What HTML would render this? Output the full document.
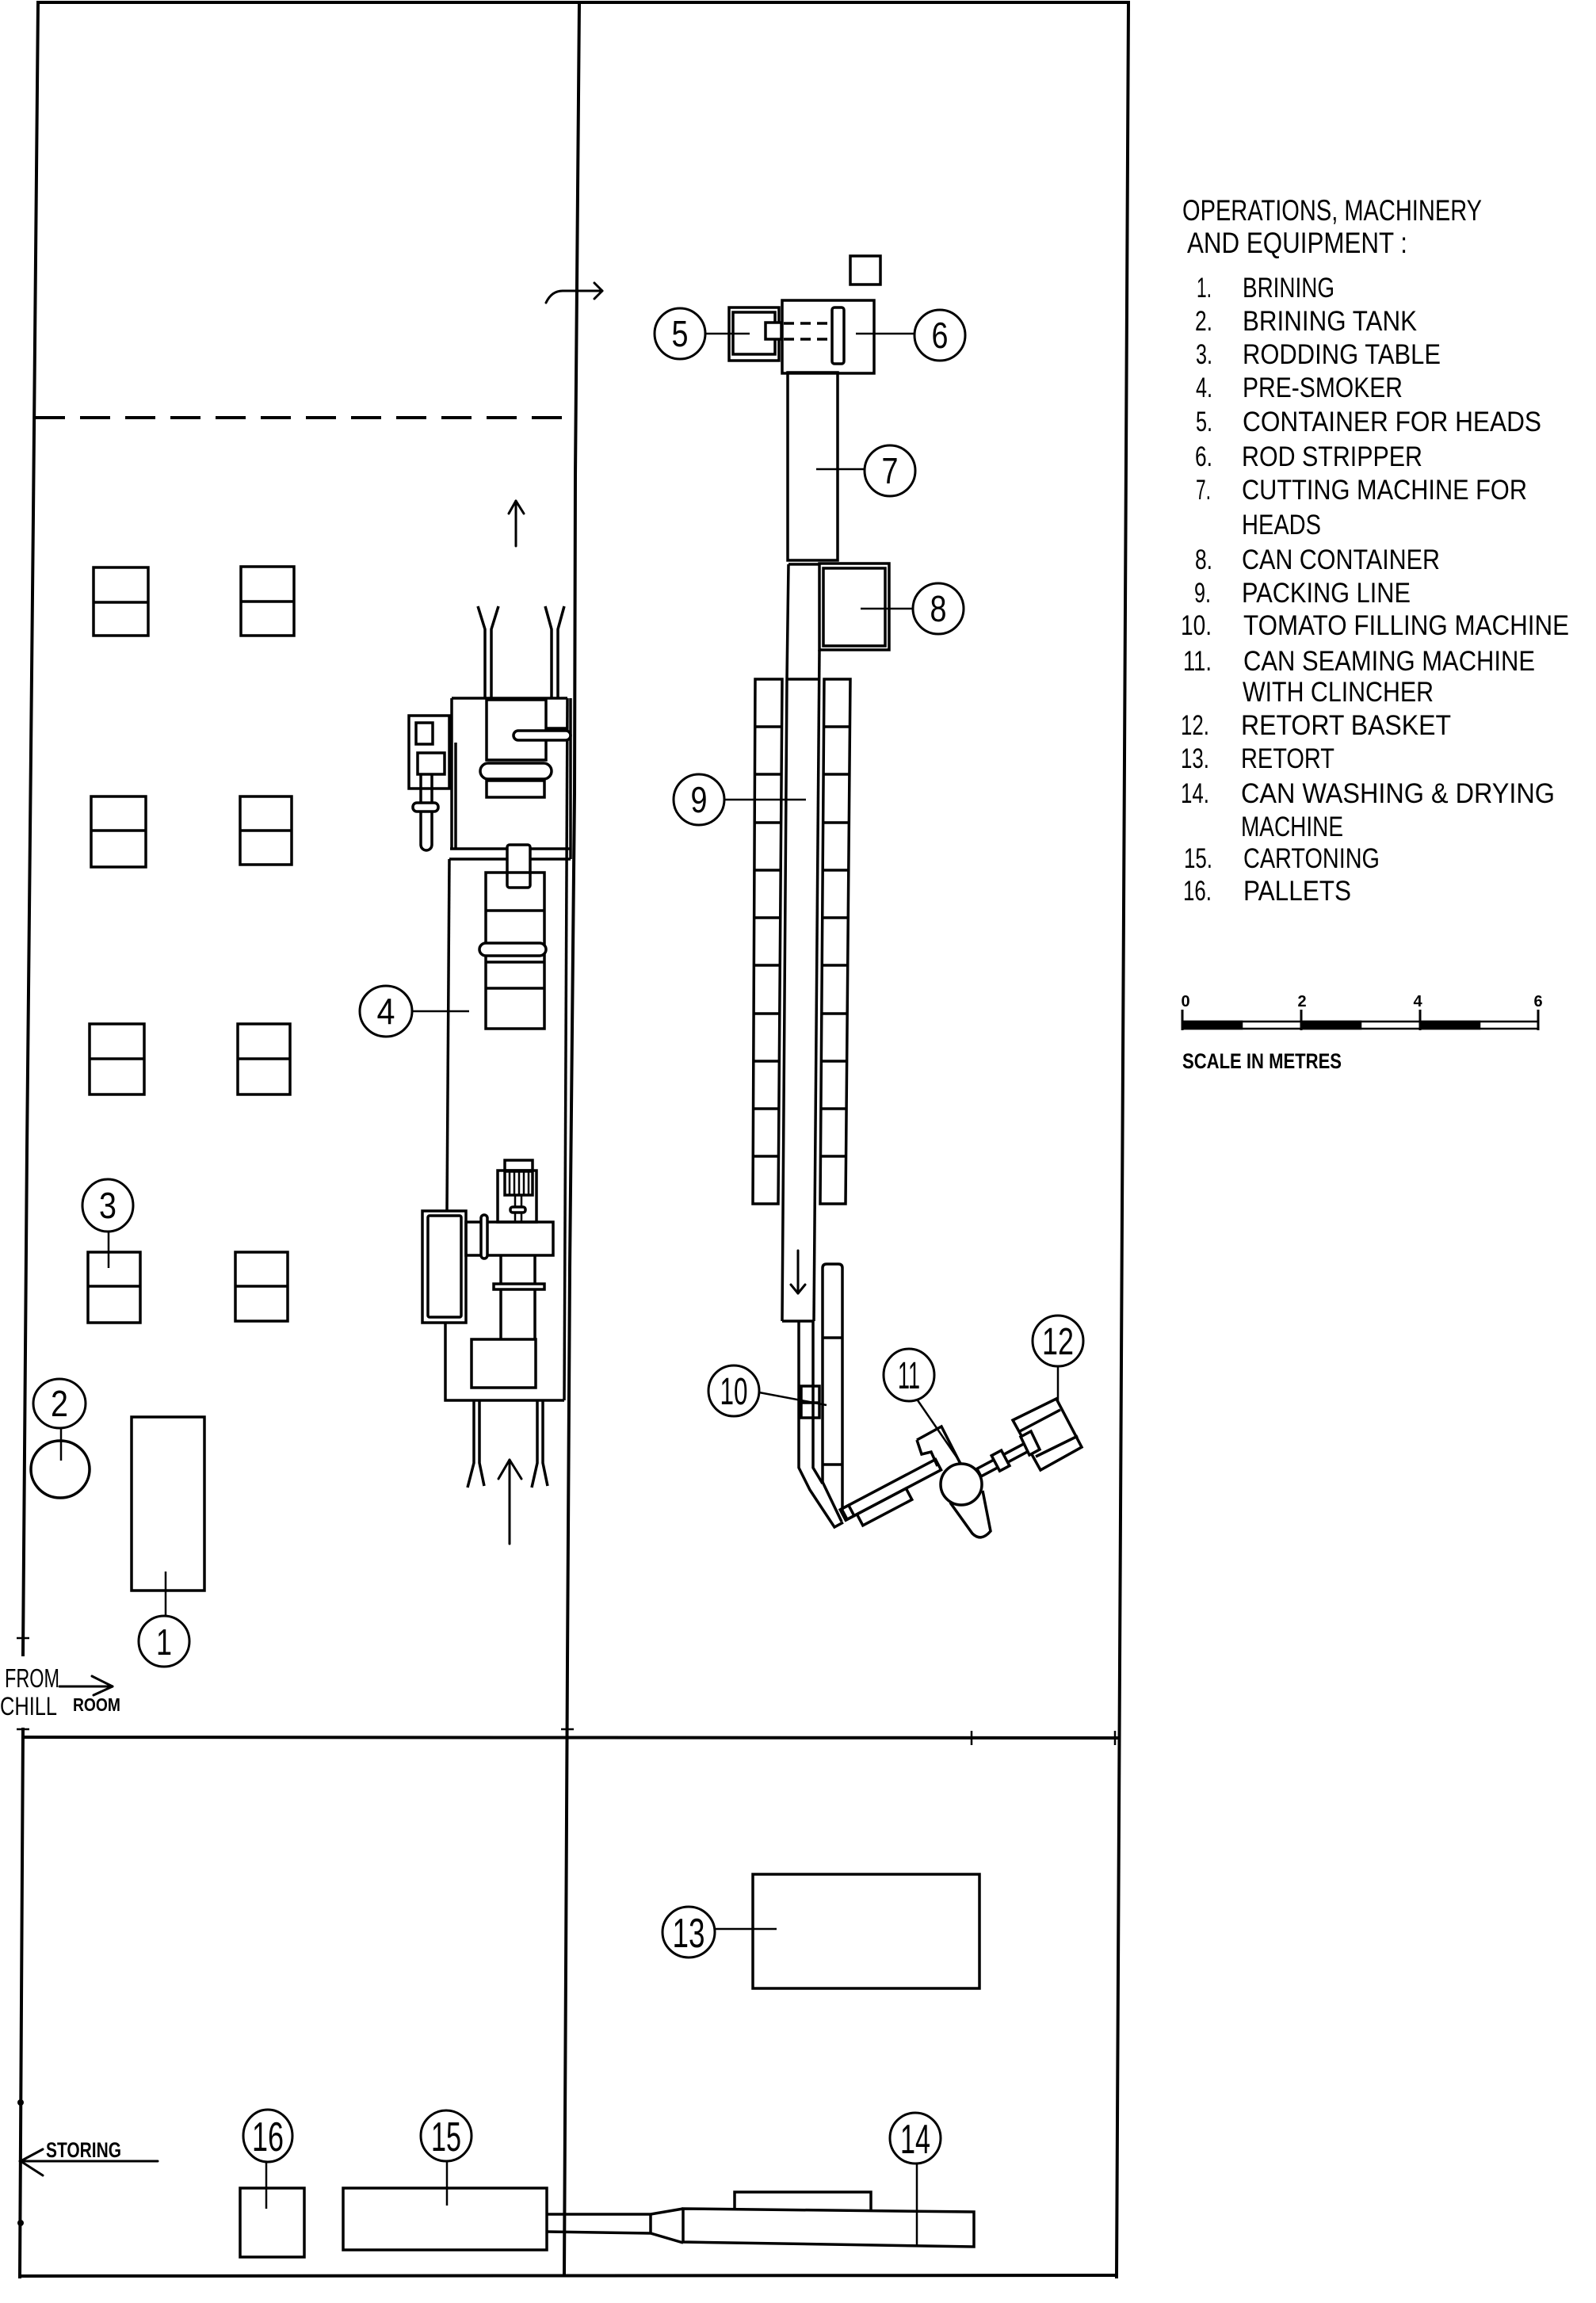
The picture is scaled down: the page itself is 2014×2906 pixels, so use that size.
<!DOCTYPE html>
<html><head><meta charset="utf-8"><title>Plant layout</title>
<style>
html,body{margin:0;padding:0;background:#fff;}
svg{display:block;}
text{font-family:"Liberation Sans",sans-serif;fill:#000;stroke:none;}
</style></head><body>
<svg width="2014" height="2906" viewBox="0 0 2014 2906" xmlns="http://www.w3.org/2000/svg">
<rect x="0" y="0" width="2014" height="2906" fill="#fff"/>

<!-- ============ FRAME & WALLS ============ -->
<g fill="none" stroke="#000" stroke-width="4" stroke-linecap="square" stroke-linejoin="miter">
  <path d="M48,3 L1424,3"/>
  <path d="M48,3 L42,650 L34,1450 L29,2088"/>
  <path d="M29,2182 L25,2873"/>
  <path d="M1424,3 L1413,2100 L1409,2873"/>
  <path d="M29,2192 L1412,2193"/>
  <path d="M25,2872 L1409,2871"/>
  <path d="M731,3 L726,600 L725,1000 L719,1600 L716,2100 L712,2870"/>
  <path d="M44,527 L724,527" stroke-dasharray="38 19" stroke-linecap="butt"/>
</g>
<g fill="none" stroke="#000" stroke-width="2.5">
  <path d="M21,2067 L37,2067"/>
  <path d="M21,2182 L37,2182"/>
  <path d="M1226,2184 L1226,2202"/>
  <path d="M1407,2184 L1407,2202"/>
  <path d="M708,2182 L724,2182"/>
</g>
<circle cx="26" cy="2653" r="4" fill="#000"/>
<circle cx="26" cy="2805" r="4" fill="#000"/>

<!-- ============ ARROWS ============ -->
<g fill="none" stroke="#000" stroke-width="3" stroke-linecap="round" stroke-linejoin="round">
  <path d="M689,382 Q696,367 710,367 L760,367"/>
  <path d="M750,357 L760,367 L750,377"/>
  <path d="M651,689 L651,632"/>
  <path d="M642,648 L651,632 L661,648"/>
  <path d="M643,1948 L643,1842"/>
  <path d="M629,1866 L643,1842 L658,1866"/>
  <path d="M1007,1578 L1007,1632"/>
  <path d="M998,1621 L1007,1632 L1016,1621"/>
  <!-- from chill room -->
  <path d="M75,2128 L142,2128"/>
  <path d="M116,2115 L142,2128 L118,2139"/>
  <!-- storing -->
  <path d="M199,2727 L25,2727"/>
  <path d="M54,2712 L26,2727 L54,2745"/>
</g>

<!-- ============ LEFT AREA (rodding tables etc.) ============ -->
<g fill="none" stroke="#000" stroke-width="3.5">
  <rect x="118" y="716" width="69" height="86"/><path d="M118,760 L187,760"/>
  <rect x="304" y="715" width="67" height="87"/><path d="M304,759 L371,759"/>
  <rect x="115" y="1005" width="69" height="89"/><path d="M115,1048 L184,1048"/>
  <rect x="303" y="1005" width="65" height="86"/><path d="M303,1048 L368,1048"/>
  <rect x="113" y="1292" width="69" height="89"/><path d="M113,1336 L182,1336"/>
  <rect x="300" y="1292" width="66" height="89"/><path d="M300,1336 L366,1336"/>
  <rect x="111" y="1580" width="66" height="89"/><path d="M111,1623 L177,1623"/>
  <rect x="297" y="1580" width="66" height="87"/><path d="M297,1623 L363,1623"/>
  <ellipse cx="76" cy="1854" rx="37" ry="36"/>
  <rect x="166" y="1788" width="92" height="219"/>
</g>

<!-- ============ PRE-SMOKER (4) ============ -->
<g fill="none" stroke="#000" stroke-width="3.5" stroke-linejoin="miter">
  <path d="M570,881 L716,881"/>
  <path d="M570,881 L570,1071"/>
  <path d="M716,881 L712,1767"/>
  <path d="M720,881 L720,1084"/>
  <path d="M575,937 L575,1071"/>
  <path d="M568,1071 L720,1071"/>
  <path d="M567,1084 L720,1084"/>
  <path d="M567,1084 L564,1528"/>
  <path d="M562,1669 L562,1767 L712,1767"/>
  <!-- vents top -->
  <path d="M612,881 L612,794 L603,765"/>
  <path d="M620,881 L620,794 L629,765"/>
  <path d="M696,881 L696,794 L688,765"/>
  <path d="M704,881 L704,794 L712,765"/>
  <!-- upper drum -->
  <rect x="614" y="883" width="75" height="76"/>
  <path d="M689,919 L716,919"/>
  <rect x="648" y="922" width="72" height="12" rx="6" fill="#fff"/>
  <rect x="606" y="963" width="90" height="20" rx="10"/>
  <rect x="614" y="985" width="73" height="21"/>
  <!-- control panel -->
  <rect x="516" y="903" width="51" height="92"/>
  <rect x="525" y="912" width="21" height="27"/>
  <rect x="527" y="950" width="34" height="27"/>
  <path d="M531,977 L531,1066 A7,7 0 0 0 545,1066 L545,977"/>
  <rect x="521" y="1013" width="32" height="11" rx="5" fill="#fff"/>
  <!-- coupling and lower drum -->
  <rect x="640" y="1066" width="29" height="54" rx="3" fill="#fff"/>
  <rect x="613" y="1101" width="74" height="197"/>
  <path d="M613,1149 L687,1149 M613,1214 L687,1214 M613,1247 L687,1247"/>
  <rect x="605" y="1190" width="84" height="16" rx="8" fill="#fff"/>
  <!-- lower section -->
  <rect x="533" y="1528" width="55" height="141"/>
  <rect x="540" y="1534" width="42" height="128" rx="2"/>
  <rect x="588" y="1542" width="110" height="42"/>
  <rect x="607" y="1533" width="8" height="55" rx="4" fill="#fff"/>
  <rect x="628" y="1477" width="49" height="65"/>
  <rect x="637" y="1464" width="35" height="13"/>
  <rect x="637" y="1478" width="35" height="30"/>
  <path d="M643,1478 L643,1508 M649,1478 L649,1508 M655,1478 L655,1508 M661,1478 L661,1508 M667,1478 L667,1508" stroke-width="2.5"/>
  <path d="M650,1508 L650,1542 M658,1508 L658,1542" stroke-width="2.5"/>
  <rect x="644" y="1523" width="19" height="7" rx="3" fill="#fff"/>
  <path d="M632,1584 L632,1690 M675,1584 L675,1690"/>
  <rect x="623" y="1620" width="64" height="7" fill="#fff"/>
  <rect x="595" y="1690" width="81" height="61"/>
  <!-- legs -->
  <path d="M598,1767 L598,1846 L590,1877"/>
  <path d="M605,1767 L605,1846 L611,1875"/>
  <path d="M678,1767 L678,1846 L671,1877"/>
  <path d="M685,1767 L685,1846 L691,1875"/>
</g>

<!-- ============ HEAD LINE 5-8 ============ -->
<g fill="none" stroke="#000" stroke-width="3.5">
  <rect x="1073" y="323" width="38" height="36"/>
  <rect x="987" y="379" width="116" height="92"/>
  <rect x="1050" y="388" width="15" height="71" rx="3"/>
  <path d="M989,408 L1048,408 M989,428 L1048,428" stroke-dasharray="13 8"/>
  <rect x="920" y="388" width="63" height="67"/>
  <rect x="925" y="394" width="53" height="53"/>
  <rect x="966" y="407" width="20" height="21" fill="#fff"/>
  <rect x="994" y="470" width="63" height="237"/>
  <rect x="1034" y="711" width="88" height="109"/>
  <rect x="1039" y="717" width="78" height="98"/>
  <!-- packing line -->
  <path d="M995,712 L1034,712"/>
  <path d="M995,712 L993,857 L987,1667"/>
  <path d="M1034,820 L1027,1667"/>
  <path d="M993,857 L1034,857"/>
  <path d="M987,1667 L1027,1667"/>
</g>

<!-- packing line side columns -->
<g fill="none" stroke="#000" stroke-width="3.5">
  <path d="M953,857 L987,857 L982,1519 L950,1519 Z"/>
  <path d="M1040,857 L1073,857 L1067,1519 L1035,1519 Z"/>
  <path d="M952,917 L986,917 M952,977 L986,977 M952,1038 L985,1038 M952,1098 L985,1098 M951,1158 L985,1158 M951,1218 L984,1218 M951,1279 L984,1279 M951,1339 L983,1339 M950,1399 L983,1399 M950,1459 L983,1459"/>
  <path d="M1039,917 L1072,917 M1039,977 L1072,977 M1038,1038 L1071,1038 M1038,1098 L1071,1098 M1038,1158 L1070,1158 M1037,1218 L1070,1218 M1037,1279 L1069,1279 M1037,1339 L1069,1339 M1036,1399 L1068,1399 M1036,1459 L1068,1459"/>
</g>

<!-- ============ FILLER / SEAMER / BASKET ============ -->
<g fill="none" stroke="#000" stroke-width="3.5" stroke-linejoin="miter">
  <path d="M1038,1870 L1038,1600 Q1038,1595 1043,1595 L1058,1595 Q1063,1595 1063,1600 L1063,1905"/>
  <path d="M1038,1688 L1063,1688 M1038,1848 L1063,1848"/>
  <path d="M1038,1870 L1062,1920"/>
  <path d="M1008,1667 L1008,1852 L1022,1880 L1053,1927 L1064,1921"/>
  <path d="M1026,1667 L1026,1852 L1038,1872"/>
  <rect x="1011" y="1749" width="23" height="40"/>
  <path d="M1011,1770 L1034,1770"/>
  <!-- conveyor arm -->
  <g transform="translate(1062,1904) rotate(-27.8)">
    <rect x="0" y="0" width="134" height="15"/>
    <rect x="14" y="15" width="70" height="16"/>
    <rect x="-2" y="0" width="12" height="15"/>
  </g>
  <!-- seamer -->
  <circle cx="1213" cy="1873" r="26"/>
  <path d="M1157,1817 L1188,1800 L1212,1847"/>
  <path d="M1157,1817 L1163,1835 L1175,1832 L1183,1850"/>
  <path d="M1199,1896 L1227,1935 Q1238,1946 1250,1932 L1240,1881"/>
  <!-- arm to basket -->
  <g transform="translate(1238,1863) rotate(-28)">
    <rect x="0" y="-11" width="72" height="11"/>
    <rect x="24" y="-17" width="14" height="22" fill="#fff"/>
  </g>
  <!-- retort basket -->
  <path d="M1278,1792 L1333,1765 L1365,1826 L1313,1855 Z"/>
  <path d="M1285,1807 L1338,1779"/>
  <path d="M1307,1838 L1360,1812"/>
  <path d="M1288,1813 L1301,1806 L1312,1829 L1299,1836 Z" fill="#fff"/>
</g>

<!-- ============ BOTTOM AREA ============ -->
<g fill="none" stroke="#000" stroke-width="3.5">
  <rect x="950" y="2365" width="286" height="144"/>
  <rect x="303" y="2761" width="81" height="87"/>
  <rect x="433" y="2761" width="257" height="78"/>
  <path d="M690,2794 L821,2794 L862,2787"/>
  <path d="M690,2816 L821,2818 L862,2830"/>
  <path d="M821,2794 L821,2818"/>
  <path d="M862,2787 L1229,2791 L1229,2835 L862,2829 Z"/>
  <path d="M927,2788 L927,2766 L1099,2766 L1099,2790"/>
</g>

<!-- ============ LEADERS ============ -->
<g fill="none" stroke="#000" stroke-width="2.5">
  <path d="M890,421 L946,421"/>
  <path d="M1080,421 L1154,421"/>
  <path d="M1030,592 L1091,592"/>
  <path d="M1086,768 L1152,768"/>
  <path d="M914,1009 L1017,1009"/>
  <path d="M520,1276 L592,1276"/>
  <path d="M137,1554 L137,1600"/>
  <path d="M77,1802 L77,1843"/>
  <path d="M209,1983 L209,2039"/>
  <path d="M958,1757 L1043,1773"/>
  <path d="M1158,1767 L1213,1847"/>
  <path d="M1335,1724 L1335,1770"/>
  <path d="M902,2434 L980,2434"/>
  <path d="M336,2728 L336,2787"/>
  <path d="M564,2727 L564,2783"/>
  <path d="M1157,2730 L1157,2833"/>
</g>

<!-- ============ CIRCLED NUMBERS ============ -->
<g fill="#fff" stroke="#000" stroke-width="3">
  <ellipse cx="207" cy="2071" rx="32" ry="32"/>
  <ellipse cx="75" cy="1771" rx="33" ry="31"/>
  <ellipse cx="136" cy="1521" rx="32" ry="33"/>
  <ellipse cx="487" cy="1276" rx="33" ry="32"/>
  <ellipse cx="858" cy="421" rx="32" ry="32"/>
  <ellipse cx="1186" cy="423" rx="32" ry="32"/>
  <ellipse cx="1123" cy="594" rx="32" ry="32"/>
  <ellipse cx="1184" cy="768" rx="32" ry="32"/>
  <ellipse cx="882" cy="1009" rx="32" ry="32"/>
  <ellipse cx="926" cy="1755" rx="32" ry="32"/>
  <ellipse cx="1147" cy="1735" rx="32" ry="33"/>
  <ellipse cx="1335" cy="1692" rx="32" ry="32"/>
  <ellipse cx="869" cy="2438" rx="33" ry="32"/>
  <ellipse cx="1155" cy="2698" rx="32" ry="32"/>
  <ellipse cx="563" cy="2695" rx="32" ry="32"/>
  <ellipse cx="338" cy="2695" rx="31" ry="33"/>
</g>
<g font-size="46" text-anchor="middle">
  <text x="207" y="2088" textLength="20" lengthAdjust="spacingAndGlyphs">1</text>
  <text x="75" y="1787" textLength="22" lengthAdjust="spacingAndGlyphs">2</text>
  <text x="136" y="1537" textLength="22" lengthAdjust="spacingAndGlyphs">3</text>
  <text x="487" y="1292" textLength="23" lengthAdjust="spacingAndGlyphs">4</text>
  <text x="858" y="437" textLength="21" lengthAdjust="spacingAndGlyphs">5</text>
  <text x="1186" y="439" textLength="21" lengthAdjust="spacingAndGlyphs">6</text>
  <text x="1123" y="610" textLength="21" lengthAdjust="spacingAndGlyphs">7</text>
  <text x="1184" y="784" textLength="21" lengthAdjust="spacingAndGlyphs">8</text>
  <text x="882" y="1025" textLength="21" lengthAdjust="spacingAndGlyphs">9</text>
</g>
<g font-size="48" text-anchor="middle">
  <text x="926" y="1772" textLength="35" lengthAdjust="spacingAndGlyphs">10</text>
  <text x="1147" y="1752" textLength="28" lengthAdjust="spacingAndGlyphs">11</text>
  <text x="1335" y="1709" textLength="40" lengthAdjust="spacingAndGlyphs">12</text>
</g>
<g font-size="52" text-anchor="middle">
  <text x="869" y="2457" textLength="41" lengthAdjust="spacingAndGlyphs">13</text>
  <text x="1155" y="2717" textLength="38" lengthAdjust="spacingAndGlyphs">14</text>
  <text x="563" y="2714" textLength="38" lengthAdjust="spacingAndGlyphs">15</text>
  <text x="338" y="2714" textLength="40" lengthAdjust="spacingAndGlyphs">16</text>
</g>

<!-- ============ SIDE LABELS ============ -->
<text x="6" y="2129" font-size="33" textLength="69" lengthAdjust="spacingAndGlyphs">FROM</text>
<text x="0" y="2164" font-size="32" textLength="72" lengthAdjust="spacingAndGlyphs">CHILL</text>
<text x="92" y="2159" font-size="23" font-weight="bold" textLength="60" lengthAdjust="spacingAndGlyphs">ROOM</text>
<text x="58" y="2722" font-size="27" font-weight="bold" textLength="95" lengthAdjust="spacingAndGlyphs">STORING</text>

<!-- ============ LEGEND ============ -->
<g font-size="37">
  <text x="1492" y="278" textLength="378" lengthAdjust="spacingAndGlyphs">OPERATIONS, MACHINERY</text>
  <text x="1498" y="319" textLength="278" lengthAdjust="spacingAndGlyphs">AND EQUIPMENT :</text>
</g>
<g font-size="35" text-anchor="end">
  <text x="1529" y="375" textLength="19" lengthAdjust="spacingAndGlyphs">1.</text>
  <text x="1530" y="417" textLength="22" lengthAdjust="spacingAndGlyphs">2.</text>
  <text x="1530" y="459" textLength="21" lengthAdjust="spacingAndGlyphs">3.</text>
  <text x="1530" y="501" textLength="21" lengthAdjust="spacingAndGlyphs">4.</text>
  <text x="1530" y="544" textLength="21" lengthAdjust="spacingAndGlyphs">5.</text>
  <text x="1530" y="588" textLength="22" lengthAdjust="spacingAndGlyphs">6.</text>
  <text x="1528" y="630" textLength="19" lengthAdjust="spacingAndGlyphs">7.</text>
  <text x="1530" y="718" textLength="22" lengthAdjust="spacingAndGlyphs">8.</text>
  <text x="1528" y="760" textLength="21" lengthAdjust="spacingAndGlyphs">9.</text>
  <text x="1529" y="801" textLength="39" lengthAdjust="spacingAndGlyphs">10.</text>
  <text x="1529" y="846" textLength="36" lengthAdjust="spacingAndGlyphs">11.</text>
  <text x="1526" y="927" textLength="36" lengthAdjust="spacingAndGlyphs">12.</text>
  <text x="1526" y="969" textLength="36" lengthAdjust="spacingAndGlyphs">13.</text>
  <text x="1526" y="1013" textLength="36" lengthAdjust="spacingAndGlyphs">14.</text>
  <text x="1530" y="1095" textLength="36" lengthAdjust="spacingAndGlyphs">15.</text>
  <text x="1529" y="1136" textLength="36" lengthAdjust="spacingAndGlyphs">16.</text>
</g>
<g font-size="35">
  <text x="1568" y="375" textLength="116" lengthAdjust="spacingAndGlyphs">BRINING</text>
  <text x="1568" y="417" textLength="220" lengthAdjust="spacingAndGlyphs">BRINING TANK</text>
  <text x="1568" y="459" textLength="250" lengthAdjust="spacingAndGlyphs">RODDING TABLE</text>
  <text x="1568" y="501" textLength="202" lengthAdjust="spacingAndGlyphs">PRE-SMOKER</text>
  <text x="1568" y="544" textLength="377" lengthAdjust="spacingAndGlyphs">CONTAINER FOR HEADS</text>
  <text x="1567" y="588" textLength="228" lengthAdjust="spacingAndGlyphs">ROD STRIPPER</text>
  <text x="1567" y="630" textLength="360" lengthAdjust="spacingAndGlyphs">CUTTING MACHINE FOR</text>
  <text x="1567" y="674" textLength="100" lengthAdjust="spacingAndGlyphs">HEADS</text>
  <text x="1567" y="718" textLength="250" lengthAdjust="spacingAndGlyphs">CAN CONTAINER</text>
  <text x="1567" y="760" textLength="213" lengthAdjust="spacingAndGlyphs">PACKING LINE</text>
  <text x="1569" y="801" textLength="411" lengthAdjust="spacingAndGlyphs">TOMATO FILLING MACHINE</text>
  <text x="1569" y="846" textLength="368" lengthAdjust="spacingAndGlyphs">CAN SEAMING MACHINE</text>
  <text x="1568" y="885" textLength="241" lengthAdjust="spacingAndGlyphs">WITH CLINCHER</text>
  <text x="1566" y="927" textLength="265" lengthAdjust="spacingAndGlyphs">RETORT BASKET</text>
  <text x="1566" y="969" textLength="118" lengthAdjust="spacingAndGlyphs">RETORT</text>
  <text x="1566" y="1013" textLength="396" lengthAdjust="spacingAndGlyphs">CAN WASHING &amp; DRYING</text>
  <text x="1566" y="1055" textLength="129" lengthAdjust="spacingAndGlyphs">MACHINE</text>
  <text x="1569" y="1095" textLength="172" lengthAdjust="spacingAndGlyphs">CARTONING</text>
  <text x="1569" y="1136" textLength="136" lengthAdjust="spacingAndGlyphs">PALLETS</text>
</g>

<!-- scale bar -->
<g font-size="20" font-weight="bold" text-anchor="middle">
  <text x="1496" y="1270">0</text>
  <text x="1643" y="1270">2</text>
  <text x="1789" y="1270">4</text>
  <text x="1941" y="1270">6</text>
</g>
<g stroke="#000" stroke-width="2.5">
  <rect x="1492" y="1289" width="449" height="9" fill="#fff"/>
  <rect x="1492" y="1289" width="75" height="9" fill="#000"/>
  <rect x="1642" y="1289" width="75" height="9" fill="#000"/>
  <rect x="1792" y="1289" width="75" height="9" fill="#000"/>
  <path d="M1492,1274 L1492,1300 M1642,1274 L1642,1300 M1792,1274 L1792,1300 M1941,1274 L1941,1300" fill="none" stroke-width="3"/>
</g>
<text x="1492" y="1348" font-size="27" font-weight="bold" textLength="201" lengthAdjust="spacingAndGlyphs">SCALE IN METRES</text>

</svg>
</body></html>
